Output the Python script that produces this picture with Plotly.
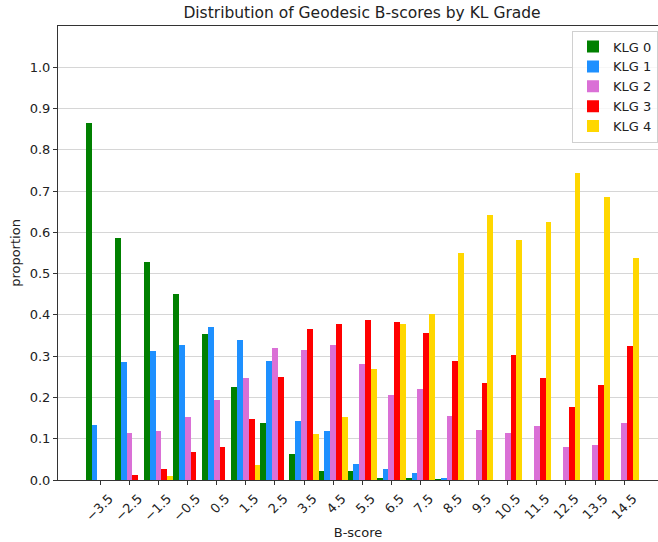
import plotly.graph_objects as go

# ---- data ----
b_scores = [-3.5, -2.5, -1.5, -0.5, 0.5, 1.5, 2.5, 3.5, 4.5, 5.5, 6.5, 7.5,
            8.5, 9.5, 10.5, 11.5, 12.5, 13.5, 14.5]
tick_labels = ["\u22123.5", "\u22122.5", "\u22121.5", "\u22120.5", "0.5", "1.5", "2.5",
               "3.5", "4.5", "5.5", "6.5", "7.5", "8.5", "9.5", "10.5", "11.5",
               "12.5", "13.5", "14.5"]
klg0 = [0.866, 0.587, 0.528, 0.450, 0.354, 0.226, 0.139, 0.063, 0.023, 0.021,
        0.003, 0.005, 0.002, 0, 0, 0, 0, 0, 0]
klg1 = [0.134, 0.286, 0.313, 0.328, 0.371, 0.340, 0.289, 0.144, 0.119, 0.038,
        0.027, 0.016, 0.005, 0, 0, 0, 0, 0, 0]
klg2 = [0, 0.113, 0.119, 0.152, 0.194, 0.248, 0.320, 0.314, 0.326, 0.282,
        0.206, 0.220, 0.154, 0.122, 0.114, 0.130, 0.079, 0.084, 0.138]
klg3 = [0, 0.012, 0.027, 0.069, 0.079, 0.148, 0.250, 0.367, 0.379, 0.387,
        0.384, 0.355, 0.289, 0.234, 0.304, 0.246, 0.176, 0.230, 0.324]
klg4 = [0, 0, 0.010, 0, 0, 0.036, 0, 0.112, 0.153, 0.270,
        0.378, 0.403, 0.549, 0.641, 0.581, 0.624, 0.745, 0.686, 0.539]
series_names = ["KLG 0", "KLG 1", "KLG 2", "KLG 3", "KLG 4"]
y_ticks = [0.0, 0.1, 0.2, 0.3, 0.4, 0.5, 0.6, 0.7, 0.8, 0.9, 1.0]

colors = ["#008000", "#1e90ff", "#da70d6", "#ff0000", "#ffd700"]
FONT = "DejaVu Sans"

fig = go.Figure()
for name, vals, col in zip(series_names, [klg0, klg1, klg2, klg3, klg4], colors):
    fig.add_trace(go.Bar(x=b_scores, y=vals, name=name,
                         marker=dict(color=col, line=dict(width=0))))

fig.update_layout(
    width=658, height=542,
    margin=dict(l=58, r=0, t=26, b=62, autoexpand=False),
    paper_bgcolor="white", plot_bgcolor="white",
    barmode="group", bargap=0, bargroupgap=0,
    font=dict(family=FONT, size=13, color="#222222"),
    title=dict(text="Distribution of Geodesic B-scores by KL Grade",
               x=0.5067, xref="paper", xanchor="center",
               y=1 - 13 / 542, yref="container", yanchor="middle",
               font=dict(family=FONT, size=15.5, color="#222222"),
               automargin=False),
    legend=dict(x=1.0, xanchor="right", y=0.99, yanchor="top",
                bgcolor="rgba(255,255,255,0.8)", bordercolor="#d0d0d0",
                borderwidth=1, font=dict(family=FONT, size=13),
                tracegroupgap=0),
    showlegend=True,
)
fig.update_xaxes(
    range=[-4.954, 15.665], tickmode="array", tickvals=b_scores, ticktext=tick_labels,
    tickangle=-45, ticks="outside", ticklen=4, tickcolor="#333333",
    showline=True, linecolor="#333333", linewidth=1, mirror=True,
    showgrid=False, zeroline=False, automargin=False,
    ticklabelshift=9, ticklabelstandoff=1,
    title=dict(text="B-score", standoff=4, font=dict(family=FONT, size=13)),
)
fig.update_yaxes(
    range=[0, 1.1], tickmode="array", tickvals=y_ticks, tickformat=".1f",
    ticks="outside", ticklen=4, tickcolor="#333333",
    showline=True, linecolor="#333333", linewidth=1, automargin=False,
    showgrid=True, gridcolor="#d6d6d6", gridwidth=1, zeroline=False,
    title=dict(text="proportion", standoff=6, font=dict(family=FONT, size=13)),
)

fig.write_html(
    "out.html",
    config={"displayModeBar": False},
    post_script="document.body.style.margin='0';document.body.style.overflow='hidden';",
)
